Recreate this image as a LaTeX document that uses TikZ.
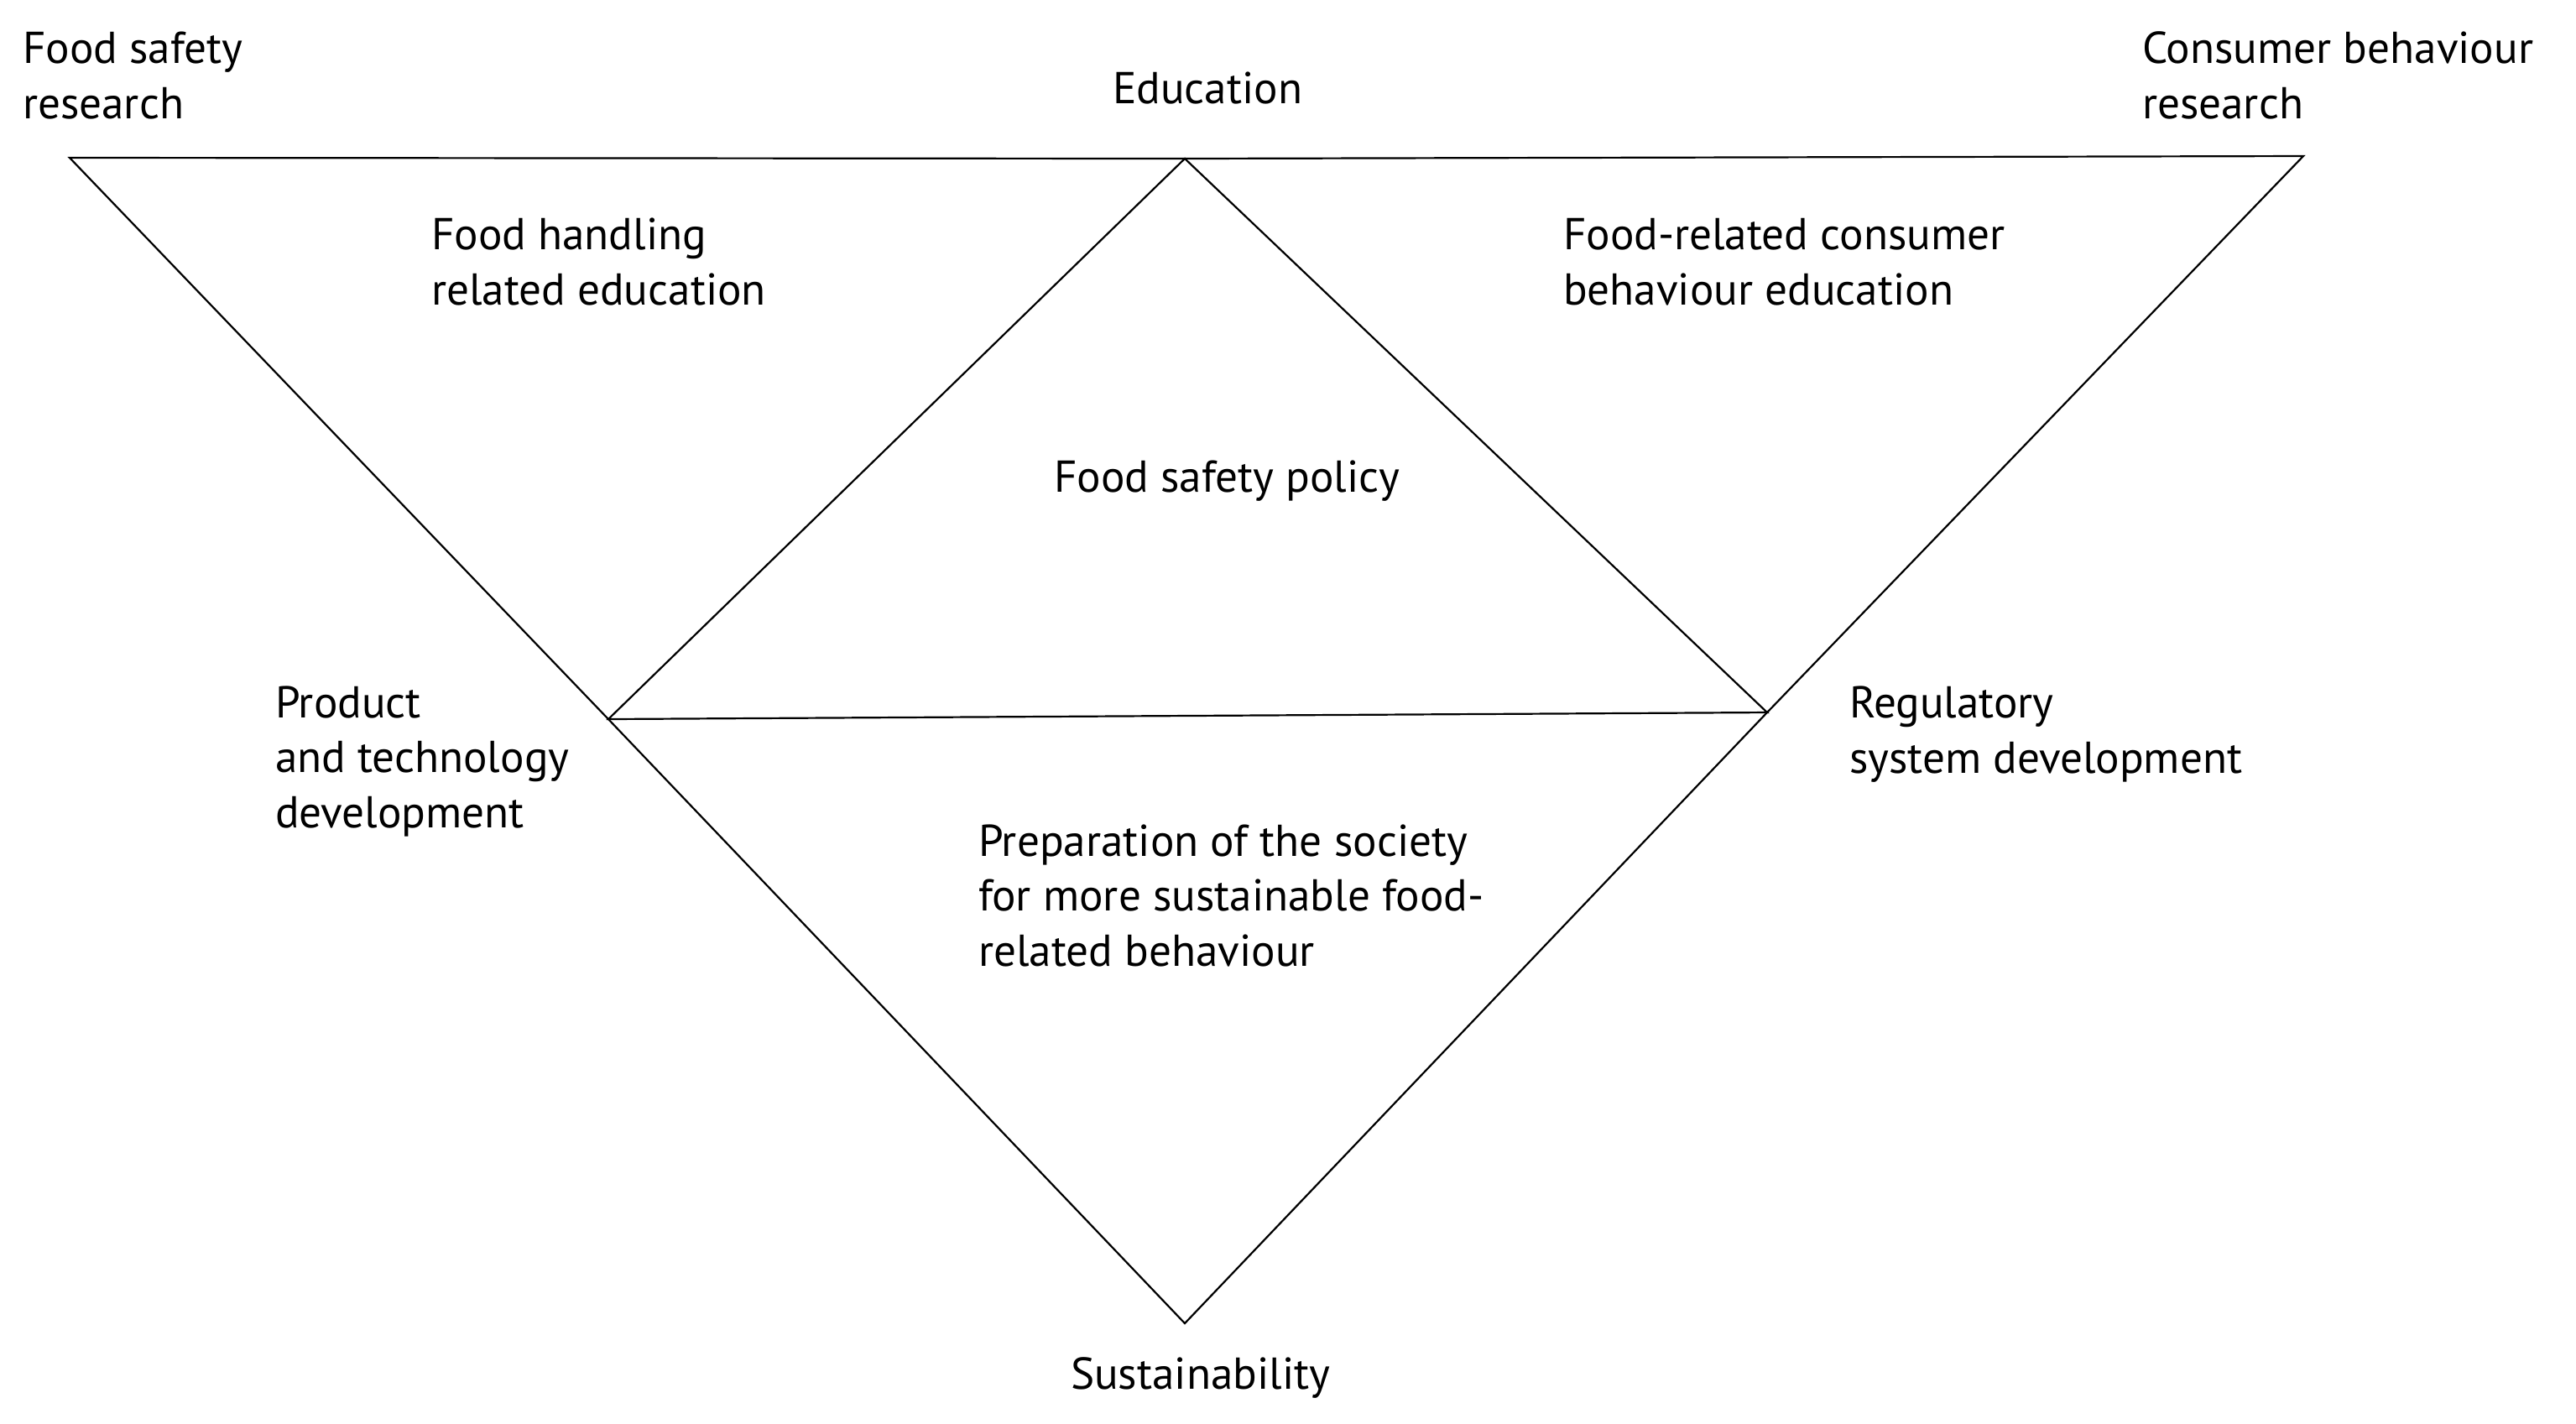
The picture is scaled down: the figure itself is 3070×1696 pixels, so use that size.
\documentclass[tikz,border=0pt]{standalone}
\usepackage{fontspec}
\setmainfont{PT Sans}
\begin{document}
\begin{tikzpicture}[x=0.25pt,y=-0.25pt,
  edge/.style={line width=0.55pt, black, line join=miter},
  lbl/.style={anchor=base west, inner sep=0pt, outer sep=0pt, align=left,
    font=\fontsize{13.3}{16.3}\selectfont}]
\useasboundingbox (0,0) rectangle (3070,1696);
% vertices
\coordinate (A) at (83,188);
\coordinate (E) at (1412,189);
\coordinate (C) at (2745,186);
\coordinate (P) at (725,857);
\coordinate (R) at (2106,849);
\coordinate (S) at (1412,1577);
% outer triangle
\draw[edge] (A) -- (E) -- (C) -- (R) -- (S) -- (P) -- cycle;
% inner triangle
\draw[edge] (E) -- (P) -- (R) -- cycle;
% labels (anchored at the baseline of the last line)
\node[lbl] (fsr) at (27,141) {Food safety\\research};
\node[lbl] (edu) at (1326,123) {Education};
\node[lbl] (cbr) at (2553,141) {Consumer behaviour\\research};
\node[lbl] (fhe) at (514,363) {Food handling\\related education};
\node[lbl] (fsp) at (1256,586) {Food safety policy};
\node[lbl] (fce) at (1863,363) {Food-related consumer\\behaviour education};
\node[lbl] (ptd) at (328,986) {Product\\and technology\\development};
\node[lbl] (rsd) at (2204,921) {Regulatory\\system development};
\node[lbl] (pss) at (1166,1151) {Preparation of the society\\for more sustainable food-\\related behaviour};
\node[lbl] (sus) at (1276,1655) {Sustainability};
\end{tikzpicture}
\end{document}
